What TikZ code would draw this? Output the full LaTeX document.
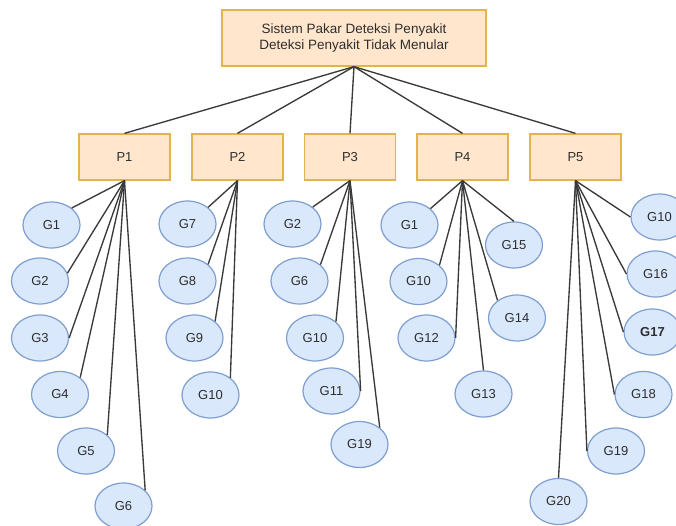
\documentclass[tikz,border=0pt]{standalone}
\usepackage{fontspec}
\setmainfont{Liberation Sans}
\usetikzlibrary{shapes.geometric}
\definecolor{boxfill}{HTML}{FFE6CC}
\definecolor{boxdraw}{HTML}{E3B44C}
\definecolor{ellfill}{HTML}{DAE8FC}
\definecolor{elldraw}{HTML}{7E9FCF}
\definecolor{txt}{HTML}{2E2E2E}
\definecolor{linecol}{HTML}{3A3A3A}
\begin{document}
\begin{tikzpicture}[x=1pt,y=-1pt,
  pbox/.style={draw=boxdraw, fill=boxfill, line width=1.3pt, minimum width=91pt, minimum height=46pt, inner sep=0pt, text=txt, font=\fontsize{13}{16}\selectfont},
  gnode/.style={ellipse, draw=elldraw, fill=ellfill, line width=1.2pt, minimum width=57pt, minimum height=46pt, inner sep=0pt, text=txt, font=\fontsize{13}{16}\selectfont},
  link/.style={draw=linecol, line width=1.35pt}]
\useasboundingbox (0,0) rectangle (676,526);
\node[pbox, minimum width=264pt, minimum height=56pt, align=center, font=\fontsize{13.5}{16}\selectfont] (top) at (354,38) {Sistem Pakar Deteksi Penyakit\\Deteksi Penyakit Tidak Menular};
\node[pbox] (p1) at (124.5,157) {P1};
\node[pbox] (p2) at (237.5,157) {P2};
\node[pbox] (p3) at (350,157) {P3};
\node[pbox] (p4) at (462.5,157) {P4};
\node[pbox] (p5) at (575.5,157) {P5};
% P1
\node[gnode] (a1) at (51.5,225) {G1};
\node[gnode] (a2) at (40,281) {G2};
\node[gnode] (a3) at (40,338) {G3};
\node[gnode] (a4) at (60,394.5) {G4};
\node[gnode] (a5) at (86,451) {G5};
\node[gnode] (a6) at (123.5,506) {G6};
% P2
\node[gnode] (b1) at (187.5,224) {G7};
\node[gnode] (b2) at (187.5,281) {G8};
\node[gnode] (b3) at (194.5,338) {G9};
\node[gnode] (b4) at (210.5,395) {G10};
% P3
\node[gnode] (c1) at (292.5,224) {G2};
\node[gnode] (c2) at (299.5,281) {G6};
\node[gnode] (c3) at (315,338) {G10};
\node[gnode] (c4) at (331.5,391) {G11};
\node[gnode] (c5) at (359.5,444.5) {G19};
% P4
\node[gnode] (d1) at (409.5,225) {G1};
\node[gnode] (d2) at (514,245) {G15};
\node[gnode] (d3) at (418.5,281.5) {G10};
\node[gnode] (d4) at (517,318) {G14};
\node[gnode] (d5) at (426.5,338) {G12};
\node[gnode] (d6) at (483.5,394) {G13};
% P5
\node[gnode] (e1) at (659.5,217) {G10};
\node[gnode] (e2) at (655.5,274) {G16};
\node[gnode, font=\fontsize{13}{16}\selectfont\bfseries] (e3) at (652.5,332) {G17};
\node[gnode] (e4) at (643.5,394.5) {G18};
\node[gnode] (e5) at (616,451) {G19};
\node[gnode] (e6) at (558.5,501.5) {G20};
% edges top
\foreach \p in {p1,p2,p3,p4,p5} \draw[link] (top.south) -- (\p.north);
% P1 edges
\draw[link] (p1.south) -- (a1.40);
\draw[link] (p1.south) -- (a2.16);
\draw[link] (p1.south) -- (a3.east);
\draw[link] (p1.south) -- (a4.40);
\draw[link] (p1.south) -- (a5.37);
\draw[link] (p1.south) -- (a6.36);
% P2 edges
\draw[link] (p2.south) -- (b1.39);
\draw[link] (p2.south) -- (b2.39);
\draw[link] (p2.south) -- (b3.39);
\draw[link] (p2.south) -- (b4.41);
% P3 edges
\draw[link] (p3.south) -- (c1.40);
\draw[link] (p3.south) -- (c2.38);
\draw[link] (p3.south) -- (c3.38);
\draw[link] (p3.south) -- (c4.east);
\draw[link] (p3.south) -- (c5.40);
% P4 edges
\draw[link] (p4.south) -- (d1.38);
\draw[link] (p4.south) -- (d2.north);
\draw[link] (p4.south) -- (d3.38);
\draw[link] (p4.south) -- (d4.138);
\draw[link] (p4.south) -- (d5.east);
\draw[link] (p4.south) -- (d6.north);
% P5 edges
\draw[link] (p5.south) -- (e1.west);
\draw[link] (p5.south) -- (e2.west);
\draw[link] (p5.south) -- (e3.west);
\draw[link] (p5.south) -- (e4.west);
\draw[link] (p5.south) -- (e5.west);
\draw[link] (p5.south) -- (e6.north);
\end{tikzpicture}
\end{document}
